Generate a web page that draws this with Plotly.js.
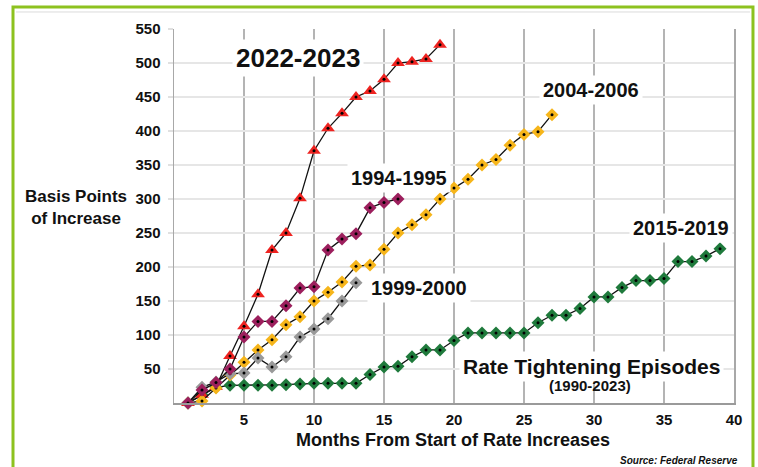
<!DOCTYPE html>
<html>
<head>
<meta charset="utf-8">
<script src="https://cdn.plot.ly/plotly-3.0.1.min.js"></script>
<style>
  html, body { margin: 0; padding: 0; background: #ffffff; }
  #chart { width: 758px; height: 467px; }
</style>
</head>
<body>
<div id="chart"></div>
<script>
// Months since the first rate increase of each episode
const months = [1, 2, 3, 4, 5, 6, 7, 8, 9, 10, 11, 12, 13, 14, 15, 16, 17, 18, 19, 20,
                21, 22, 23, 24, 25, 26, 27, 28, 29, 30, 31, 32, 33, 34, 35, 36, 37, 38, 39];

// Cumulative basis points of increase, month by month
const ep2022 = [0, 12, 24, 69, 113, 160, 225, 250, 301, 371, 404, 426, 450, 459, 476, 500, 502, 506, 527];
const ep1994 = [0, 19, 30, 50, 97, 120, 120, 143, 169, 171, 225, 241, 249, 287, 295, 300];
const ep1999 = [0, 23, 31, 43, 44, 66, 53, 68, 97, 109, 124, 150, 177];
const ep2004 = [0, 3, 22, 41, 60, 78, 93, 115, 127, 150, 163, 178, 201, 203, 226, 250, 262, 277,
                300, 316, 329, 350, 358, 379, 395, 399, 424];
const ep2015 = [0, 12, 23, 26, 26, 26, 26, 27, 28, 29, 29, 29, 29, 42, 53, 54, 68, 78, 78, 92,
                103, 103, 103, 103, 103, 118, 129, 129, 139, 156, 156, 170, 180, 180, 183, 208, 208, 216, 227];

const yTicks = [50, 100, 150, 200, 250, 300, 350, 400, 450, 500, 550];
const xTicks = [5, 10, 15, 20, 25, 30, 35, 40];

const FONT = 'Liberation Sans, Arial, Helvetica, sans-serif';

// Drawing order: bottom to top
const series = [
  { name: '2015-2019', y: ep2015, color: '#1f7a3c', symbol: 'diamond', size: 10 },
  { name: '2022-2023', y: ep2022, color: '#ee2320', symbol: 'triangle-up', size: 12 },
  { name: '2004-2006', y: ep2004, color: '#f6b51a', symbol: 'diamond', size: 10 },
  { name: '1999-2000', y: ep1999, color: '#999999', symbol: 'diamond', size: 10 },
  { name: '1994-1995', y: ep1994, color: '#9c1f5d', symbol: 'diamond', size: 10 }
];

const traces = [];
series.forEach(s => {
  const x = months.slice(0, s.y.length);
  traces.push({
    type: 'scatter', mode: 'lines+markers', name: s.name,
    x: x, y: s.y, cliponaxis: false, hoverinfo: 'skip',
    line: { color: '#111111', width: 1.3 },
    marker: { symbol: s.symbol, size: s.size, color: s.color, line: { width: 0 } }
  });
  // small black centre dot on every marker
  traces.push({
    type: 'scatter', mode: 'markers', showlegend: false,
    x: x, y: s.y, cliponaxis: false, hoverinfo: 'skip',
    marker: { symbol: 'circle', size: 3, color: '#000000', line: { width: 0 } }
  });
});

function label(text, x, y, size) {
  return {
    xref: 'x', yref: 'y', x: x, y: y, text: text, showarrow: false,
    xanchor: 'center', yanchor: 'middle',
    bgcolor: '#ffffff', borderpad: 3,
    font: { family: FONT, size: size, color: '#111111', weight: 'bold' }
  };
}

const annotations = [
  label('2022-2023', 8.86, 507, 26),
  label('2004-2006', 29.75, 460, 20),
  label('1994-1995', 16.1, 331, 20),
  label('1999-2000', 17.5, 169, 20),
  label('2015-2019', 36.2, 257, 20),
  label('Rate Tightening Episodes', 29.8, 54, 21),
  {
    xref: 'x', yref: 'y', x: 29.7, y: 26, text: '(1990-2023)', showarrow: false,
    xanchor: 'center', yanchor: 'middle',
    font: { family: FONT, size: 15, color: '#111111', weight: 'bold' }
  },
  {
    xref: 'paper', yref: 'paper', x: -0.175, y: 0.524,
    text: 'Basis Points<br>of Increase', showarrow: false, align: 'center',
    xanchor: 'center', yanchor: 'middle',
    font: { family: FONT, size: 17, color: '#111111', weight: 'bold' }
  },
  {
    xref: 'paper', yref: 'paper', x: 0.498, y: -0.0995,
    text: 'Months From Start of Rate Increases', showarrow: false,
    xanchor: 'center', yanchor: 'middle',
    font: { family: FONT, size: 18, color: '#111111', weight: 'bold' }
  },
  {
    xref: 'paper', yref: 'paper', x: 1.0107, y: -0.155,
    text: 'Source: Federal Reserve', showarrow: false,
    xanchor: 'right', yanchor: 'middle',
    font: { family: FONT, size: 10, color: '#111111', weight: 'bold', style: 'italic' }
  }
];

// Outer green frame and the thin rule beneath its top edge
const shapes = [
  { type: 'rect', xref: 'paper', yref: 'paper', x0: -0.2875, x1: 1.0339, y0: -0.2, y1: 1.0588,
    line: { color: '#8dc21f', width: 3 }, fillcolor: 'rgba(0,0,0,0)', layer: 'above' },
  { type: 'line', xref: 'paper', yref: 'paper', x0: -0.282, x1: 1.0285, y0: 1.0455, y1: 1.0455,
    line: { color: '#dcdcdc', width: 1 } }
];

const layout = {
  width: 758, height: 467,
  margin: { l: 174, r: 24, t: 29, b: 64, pad: 0 },
  paper_bgcolor: '#ffffff', plot_bgcolor: '#ffffff',
  showlegend: false,
  font: { family: FONT, color: '#111111' },
  xaxis: {
    range: [0, 40], tickvals: xTicks, ticktext: xTicks.map(String),
    showgrid: true, gridcolor: '#b4b4b4', gridwidth: 1.5,
    zeroline: false, showline: true, linecolor: '#9a9a9a', linewidth: 1.5,
    ticks: '', ticklabelstandoff: 2,
    tickfont: { family: FONT, size: 15, color: '#111111', weight: 'bold' }
  },
  yaxis: {
    range: [0, 550], tickvals: yTicks, ticktext: yTicks.map(String),
    showgrid: true, gridcolor: '#e6e6e6', gridwidth: 1.5,
    zeroline: false, showline: true, mirror: true, linecolor: '#a8a8a8', linewidth: 1.5,
    ticks: 'outside', ticklen: 5, tickcolor: '#e0e0e0', tickwidth: 1.5,
    ticklabelstandoff: 4,
    tickfont: { family: FONT, size: 15, color: '#111111', weight: 'bold' }
  },
  annotations: annotations,
  shapes: shapes
};

Plotly.newPlot('chart', traces, layout, { displayModeBar: false, staticPlot: true });
</script>
</body>
</html>
